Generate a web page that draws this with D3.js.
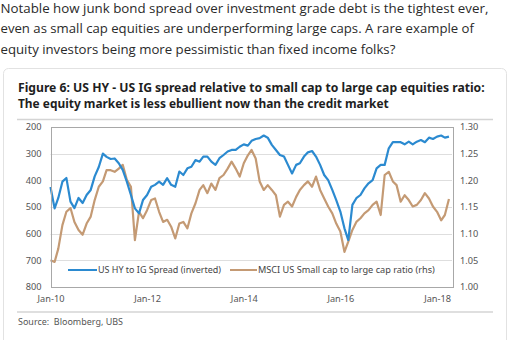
<!DOCTYPE html>
<html>
<head>
<meta charset="utf-8">
<script src="https://cdn.jsdelivr.net/npm/d3@7"></script>
<style>
  body { margin: 0; background: #fff; }
  svg { display: block; }
</style>
</head>
<body>
<script>
// intro text (tweet) and chart captions
var introLines = [
  "Notable how junk bond spread over investment grade debt is the tightest ever,",
  "even as small cap equities are underperforming large caps. A rare example of",
  "equity investors being more pessimistic than fixed income folks?"
];
var titleLines = [
  "Figure 6: US HY - US IG spread relative to small cap to large cap equities ratio:",
  "The equity market is less ebullient now than the credit market"
];
var sourceText = "Source:  Bloomberg, UBS";

// monthly observations, Jan-2010 .. Apr-2018
var firstMonth = new Date(2010, 0, 1);
var lastMonth = new Date(2018, 4, 1);

// US HY to IG spread, bp (plotted inverted on left axis)
var hyIgSpread = [
  425, 505, 466, 405, 391, 480, 504, 466, 485, 455,
  436, 385, 350, 300, 312, 320, 318, 336, 361, 405,
  455, 505, 524, 474, 455, 424, 417, 405, 417, 392,
  417, 424, 367, 380, 355, 349, 324, 330, 311, 311,
  330, 342, 317, 305, 292, 286, 286, 274, 265, 270,
  252, 245, 242, 232, 240, 267, 286, 305, 311, 342,
  374, 342, 336, 311, 295, 290, 311, 342, 380, 399,
  436, 474, 517, 580, 624, 492, 467, 455, 430, 411,
  399, 355, 342, 342, 280, 257, 257, 257, 265, 255,
  265, 255, 249, 257, 240, 245, 236, 232, 240, 236
];

// MSCI US small cap to large cap ratio (right axis)
var smallLargeRatio = [
  1.050, 1.047, 1.072, 1.116, 1.141, 1.148, 1.122, 1.107, 1.098, 1.119,
  1.132, 1.163, 1.188, 1.198, 1.219, 1.219, 1.216, 1.222, 1.229, 1.201,
  1.188, 1.088, 1.141, 1.129, 1.144, 1.163, 1.166, 1.141, 1.122, 1.126,
  1.113, 1.091, 1.119, 1.122, 1.110, 1.138, 1.157, 1.182, 1.191, 1.176,
  1.194, 1.182, 1.204, 1.210, 1.222, 1.235, 1.222, 1.207, 1.232, 1.247,
  1.257, 1.241, 1.198, 1.182, 1.191, 1.182, 1.172, 1.132, 1.154, 1.160,
  1.151, 1.169, 1.182, 1.191, 1.198, 1.188, 1.207, 1.182, 1.166, 1.151,
  1.138, 1.119, 1.104, 1.066, 1.085, 1.107, 1.122, 1.129, 1.138, 1.144,
  1.154, 1.160, 1.135, 1.210, 1.216, 1.198, 1.191, 1.160, 1.172, 1.163,
  1.151, 1.154, 1.163, 1.176, 1.166, 1.151, 1.141, 1.125, 1.135, 1.165
];

var leftTicks = [200, 300, 400, 500, 600, 700, 800];
var rightTicks = [1.00, 1.05, 1.10, 1.15, 1.20, 1.25, 1.30];
var xTickYears = [2010, 2012, 2014, 2016, 2018];
var seriesNames = ["US HY to IG Spread (inverted)", "MSCI US Small cap to large cap ratio (rhs)"];
var seriesColors = ["#2b8ad0", "#c49a74"];

var w = 510, h = 340;
var plot = { left: 50.5, right: 452, top: 127, bottom: 287 };

var svg = d3.select("body").append("svg")
  .attr("width", w)
  .attr("height", h);

// shrink/grow font so a line spans the given width
function fitWidth(sel, target) {
  var fs = parseFloat(sel.attr("font-size"));
  var len = sel.node().getComputedTextLength();
  sel.attr("font-size", (fs * target / len).toFixed(2));
}

// intro text
var introFont = "'Open Sans', 'Noto Sans', sans-serif";
var introY = [12.5, 33, 53.5];
var introW = [488, 474, 395];
introLines.forEach(function(t, i) {
  var tx = svg.append("text")
    .attr("x", 0.5).attr("y", introY[i])
    .attr("font-family", introFont)
    .attr("font-size", 13)
    .attr("fill", "#2a2a2a")
    .text(t);
  fitWidth(tx, introW[i]);
});

// card
svg.append("rect")
  .attr("x", 3.5).attr("y", 68.5)
  .attr("width", 503).attr("height", 300)
  .attr("rx", 5)
  .attr("fill", "#fff")
  .attr("stroke", "#e2e2e2");

var chartFont = "'Noto Sans', 'Open Sans', sans-serif";

var titleY = [92, 108];
var titleW = [467, 371];
titleLines.forEach(function(t, i) {
  var tx = svg.append("text")
    .attr("x", 18).attr("y", titleY[i])
    .attr("font-family", chartFont)
    .attr("font-weight", "bold")
    .attr("font-size", 12)
    .attr("fill", "#1e1e1e")
    .text(t);
  fitWidth(tx, titleW[i]);
});

svg.append("line")
  .attr("x1", 17).attr("x2", 493)
  .attr("y1", 119.5).attr("y2", 119.5)
  .attr("stroke", "#d4d4d4").attr("stroke-width", 1.5);
svg.append("line")
  .attr("x1", 17).attr("x2", 493)
  .attr("y1", 312).attr("y2", 312)
  .attr("stroke", "#d4d4d4").attr("stroke-width", 1.5);

// scales
var x = d3.scaleTime()
  .domain([firstMonth, new Date(2018, 3, 24)])
  .range([plot.left, plot.right]);
var yLeft = d3.scaleLinear()
  .domain([200, 800])
  .range([plot.top, plot.bottom]);
var yRight = d3.scaleLinear()
  .domain([1.00, 1.30])
  .range([plot.bottom, plot.top]);

var months = d3.timeMonth.range(firstMonth, lastMonth);

// gridlines
svg.append("g")
  .selectAll("line")
  .data(leftTicks.slice(1, -1))
  .enter()
  .append("line")
  .attr("x1", plot.left).attr("x2", plot.right)
  .attr("y1", function(d) { return Math.round(yLeft(d)) + 0.5; })
  .attr("y2", function(d) { return Math.round(yLeft(d)) + 0.5; })
  .attr("stroke", "#dedede");

// left axis
var leftAxis = svg.append("g")
  .attr("transform", "translate(" + plot.left + ",0)")
  .call(d3.axisLeft(yLeft).tickValues(leftTicks).tickSize(0).tickPadding(9));
// right axis
var rightAxis = svg.append("g")
  .attr("transform", "translate(" + plot.right + ",0)")
  .call(d3.axisRight(yRight).tickValues(rightTicks).tickSize(0).tickPadding(8)
    .tickFormat(d3.format(".2f")));
// bottom axis
var bottomAxis = svg.append("g")
  .attr("transform", "translate(0," + plot.bottom + ")")
  .call(d3.axisBottom(x)
    .tickValues(xTickYears.map(function(y) { return new Date(y, 0, 1); }))
    .tickSize(0).tickPadding(8)
    .tickFormat(d3.timeFormat("%b-%y")));

[leftAxis, rightAxis, bottomAxis].forEach(function(g) {
  g.select(".domain").remove();
  g.selectAll("text")
    .attr("font-family", chartFont)
    .attr("font-size", 9.2)
    .attr("fill", "#555");
});

// lines
var blueLine = d3.line()
  .x(function(d, i) { return x(months[i]); })
  .y(function(d) { return yLeft(d); });
var brownLine = d3.line()
  .x(function(d, i) { return x(months[i]); })
  .y(function(d) { return yRight(d); });

svg.append("path")
  .datum(smallLargeRatio)
  .attr("d", brownLine)
  .attr("fill", "none")
  .attr("stroke", seriesColors[1])
  .attr("stroke-width", 2.2)
  .attr("stroke-linejoin", "round");

svg.append("path")
  .datum(hyIgSpread)
  .attr("d", blueLine)
  .attr("fill", "none")
  .attr("stroke", seriesColors[0])
  .attr("stroke-width", 2.2)
  .attr("stroke-linejoin", "round");

// plot frame
svg.append("rect")
  .attr("x", Math.round(plot.left) + 0.5).attr("y", plot.top + 0.5)
  .attr("width", Math.round(plot.right - plot.left))
  .attr("height", plot.bottom - plot.top)
  .attr("fill", "none")
  .attr("stroke", "#a8a8a8");

// legend
var legendY = 270;
var legendItems = [{ x1: 68, x2: 97, w: 123 }, { x1: 230, x2: 257, w: 177 }];
legendItems.forEach(function(l, i) {
  svg.append("line")
    .attr("x1", l.x1).attr("x2", l.x2)
    .attr("y1", legendY).attr("y2", legendY)
    .attr("stroke", seriesColors[i]).attr("stroke-width", 2);
  var tx = svg.append("text")
    .attr("x", l.x2 + 1).attr("y", legendY + 3)
    .attr("font-family", chartFont)
    .attr("font-size", 8.5)
    .attr("fill", "#444")
    .text(seriesNames[i]);
  fitWidth(tx, l.w);
});

// source
var src = svg.append("text")
  .attr("x", 18).attr("y", 325)
  .attr("font-family", chartFont)
  .attr("font-size", 8.5)
  .attr("fill", "#555")
  .style("white-space", "pre")
  .text(sourceText);
fitWidth(src, 105);
</script>
</body>
</html>
